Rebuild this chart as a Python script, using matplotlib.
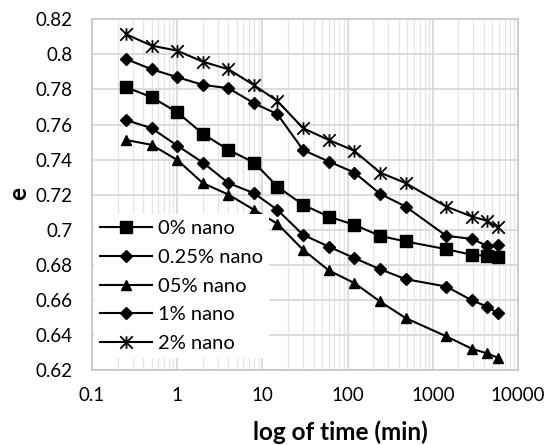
import matplotlib
matplotlib.use("Agg")
import matplotlib.pyplot as plt
from matplotlib.path import Path
from matplotlib.ticker import LogLocator, FixedLocator, NullFormatter, FuncFormatter

plt.rcParams["font.family"] = ["Lato", "DejaVu Sans"]

time_min = [0.25, 0.5, 1, 2, 4, 8, 15, 30, 60, 120, 240, 480, 1440, 2880, 4320, 5760]

e_0 = [0.7813, 0.7756, 0.767, 0.7547, 0.7455, 0.7383, 0.7246, 0.7142,
       0.7075, 0.7028, 0.6965, 0.6933, 0.6889, 0.6857, 0.6851, 0.6844]
e_025 = [0.7626, 0.7579, 0.748, 0.7383, 0.7266, 0.7208, 0.7113, 0.6971,
         0.6904, 0.6838, 0.6775, 0.6718, 0.6676, 0.6597, 0.6562, 0.6525]
e_05 = [0.7512, 0.7484, 0.7398, 0.7266, 0.72, 0.7113, 0.7034, 0.6886,
        0.6768, 0.6696, 0.6591, 0.6496, 0.6392, 0.6321, 0.6295, 0.6271]
e_1 = [0.7974, 0.7915, 0.787, 0.7826, 0.7807, 0.7721, 0.7659, 0.7455,
       0.7389, 0.7326, 0.7205, 0.7132, 0.6965, 0.6948, 0.6908, 0.6912]
e_2 = [0.8115, 0.805, 0.8021, 0.7958, 0.7915, 0.7824, 0.7734, 0.7579,
       0.7512, 0.745, 0.7326, 0.7266, 0.7132, 0.7075, 0.7051, 0.7013]

labels = ["0% nano", "0.25% nano", "05% nano", "1% nano", "2% nano"]

# excel style asterisk: vertical bar plus an X
star = Path([(0, -1), (0, 1), (-1, -1), (1, 1), (-1, 1), (1, -1)],
            [Path.MOVETO, Path.LINETO, Path.MOVETO, Path.LINETO, Path.MOVETO, Path.LINETO])

fig = plt.figure(figsize=(5.45, 4.45), dpi=100)
ax = fig.add_axes([92 / 545, 1 - 370 / 445, 426 / 545, 350.7 / 445])

ax.plot(time_min, e_0, color="black", lw=1.5, marker="s", ms=9, label=labels[0])
ax.plot(time_min, e_025, color="black", lw=1.5, marker="D", ms=6, label=labels[1])
ax.plot(time_min, e_05, color="black", lw=1.5, marker="^", ms=7.5, label=labels[2])
ax.plot(time_min, e_1, color="black", lw=1.5, marker="D", ms=6, label=labels[3])
ax.plot(time_min, e_2, color="black", lw=1.5, marker=star, ms=9, mew=1.3, label=labels[4])

ax.set_xscale("log")
ax.set_xlim(0.1, 10000)
ax.set_ylim(0.62, 0.82)
ax.yaxis.set_major_locator(FixedLocator([0.62 + 0.02 * i for i in range(11)]))
ax.yaxis.set_major_formatter(FuncFormatter(lambda v, p: ("%.2f" % v).rstrip("0") if abs(v - 0.7) > 1e-9 else "0.7"))
ax.xaxis.set_major_locator(LogLocator(base=10, numticks=10))
ax.xaxis.set_minor_locator(LogLocator(base=10, subs=range(2, 10), numticks=20))
ax.xaxis.set_minor_formatter(NullFormatter())
ax.xaxis.set_major_formatter(FuncFormatter(lambda v, p: "0.1" if v < 0.5 else "%d" % v))

ax.grid(True, which="major", color="#d9d9d9", lw=1.3)
ax.grid(True, which="minor", axis="x", color="#e6e6e6", lw=1.0)
ax.set_axisbelow(True)
for s in ax.spines.values():
    s.set_color("#c8c8c8")
    s.set_linewidth(1.3)

ax.tick_params(which="both", length=0, labelsize=13.5)
ax.tick_params(axis="y", pad=14)
ax.tick_params(axis="x", pad=12)

fig.text(340 / 545, 1 - 432 / 445, "log of time (min)", fontsize=17.5, fontweight="bold",
         ha="center", va="center")
fig.text(19 / 545, 1 - 193 / 445, "e", fontsize=17.5, fontweight="bold",
         ha="center", va="center", rotation=90)

leg = ax.legend(loc="upper left", bbox_to_anchor=(94 / 545, 1 - 214 / 445),
                bbox_transform=fig.transFigure, fontsize=14.5, frameon=True,
                fancybox=False, edgecolor="white", framealpha=1,
                handlelength=2.6, handletextpad=0.3, labelspacing=0.58,
                borderaxespad=0, borderpad=0.3)
leg.get_frame().set_linewidth(0)

fig.savefig("out.png", dpi=100)
